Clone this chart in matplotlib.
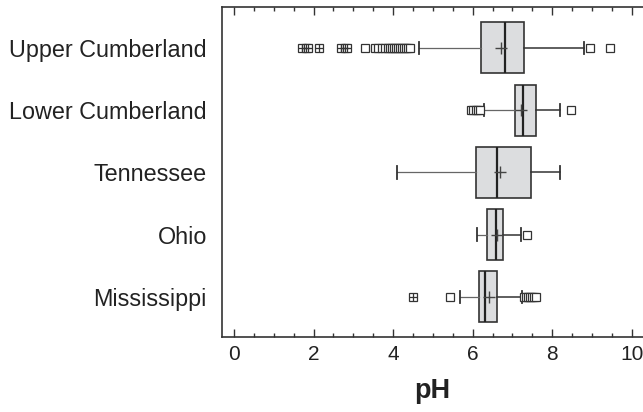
import matplotlib
matplotlib.use('Agg')
import matplotlib.pyplot as plt
from matplotlib.ticker import MultipleLocator

plt.rcParams['font.family'] = ['Liberation Sans', 'DejaVu Sans']

# basins, top to bottom
basins = ['Upper Cumberland', 'Lower Cumberland', 'Tennessee', 'Ohio', 'Mississippi']

q1 = [6.22, 7.06, 6.08, 6.37, 6.16]
medians = [6.80, 7.26, 6.62, 6.58, 6.32]
q3 = [7.28, 7.59, 7.46, 6.75, 6.60]
means = [6.71, 7.22, 6.68, 6.60, 6.42]
whis_lo = [4.66, 6.28, 4.10, 6.12, 5.68]
whis_hi = [8.79, 8.19, 8.19, 7.21, 7.23]

# outliers (open squares) and extreme values (crossed squares)
outliers = [
    [3.29, 3.55, 3.63, 3.72, 3.80, 3.86, 3.92, 3.97, 4.02, 4.07, 4.12,
     4.17, 4.22, 4.27, 4.32, 4.37, 4.42, 8.94, 9.46],
    [5.95, 6.02, 6.08, 6.13, 6.18, 8.48],
    [],
    [7.37],
    [5.43, 7.30, 7.35, 7.40, 7.45, 7.50, 7.55, 7.60],
]
extremes = [
    [1.70, 1.80, 1.87, 2.14, 2.69, 2.78, 2.85],
    [],
    [],
    [],
    [4.49],
]

fig = plt.figure(figsize=(6.43, 4.12), dpi=100)
ax = fig.add_axes([0.3453, 0.182, 0.6547, 0.801])

positions = list(range(len(basins), 0, -1))
stats = []
for i, name in enumerate(basins):
    stats.append({
        'label': name, 'med': medians[i], 'q1': q1[i], 'q3': q3[i],
        'whislo': whis_lo[i], 'whishi': whis_hi[i], 'mean': means[i],
        'fliers': outliers[i] + extremes[i],
    })

edge = '#333333'
bp = ax.bxp(stats, positions=positions, vert=False, widths=0.82,
            patch_artist=True, showmeans=True, capwidths=0.2,
            boxprops=dict(facecolor='#dcdddf', edgecolor=edge, linewidth=1.2),
            medianprops=dict(color='#222222', linewidth=1.6),
            whiskerprops=dict(color=edge, linewidth=1.1),
            capprops=dict(color=edge, linewidth=1.3),
            meanprops=dict(marker='+', markersize=9, markeredgecolor='#444444',
                           markeredgewidth=1.0),
            flierprops=dict(marker='s', markersize=5.5, markerfacecolor='white',
                            markeredgecolor=edge, markeredgewidth=0.9))

# lower whiskers drawn a bit lighter
for w in bp['whiskers'][0::2]:
    w.set_color('#666666')
    w.set_linewidth(0.9)

# cross inside the extreme values
for pos, ext in zip(positions, extremes):
    if ext:
        ax.plot(ext, [pos] * len(ext), linestyle='none', marker='+',
                markersize=5.5, markeredgecolor=edge, markeredgewidth=0.9)

ax.set_xlim(-0.3, 10.28)
ax.set_ylim(0.355, 5.655)
ax.xaxis.set_major_locator(MultipleLocator(2))
ax.xaxis.set_minor_locator(MultipleLocator(0.5))
ax.tick_params(axis='x', which='both', direction='in', top=True, bottom=True,
               width=1.0, color=edge, labelsize=15, pad=6, labelcolor='#222222')
ax.tick_params(axis='x', which='major', length=5.5)
ax.tick_params(axis='x', which='minor', length=3)
ax.tick_params(axis='y', length=0, labelsize=16.8, pad=11, labelcolor='#222222')
ax.set_yticks(positions)
ax.set_yticklabels(basins)
ax.spines['right'].set_visible(False)
for s in ax.spines.values():
    s.set_color(edge)
    s.set_linewidth(1.2)

ax.set_xlabel('pH', fontsize=19.5, fontweight='bold', labelpad=10, color='#222222')

fig.savefig('out.png', dpi=100)
